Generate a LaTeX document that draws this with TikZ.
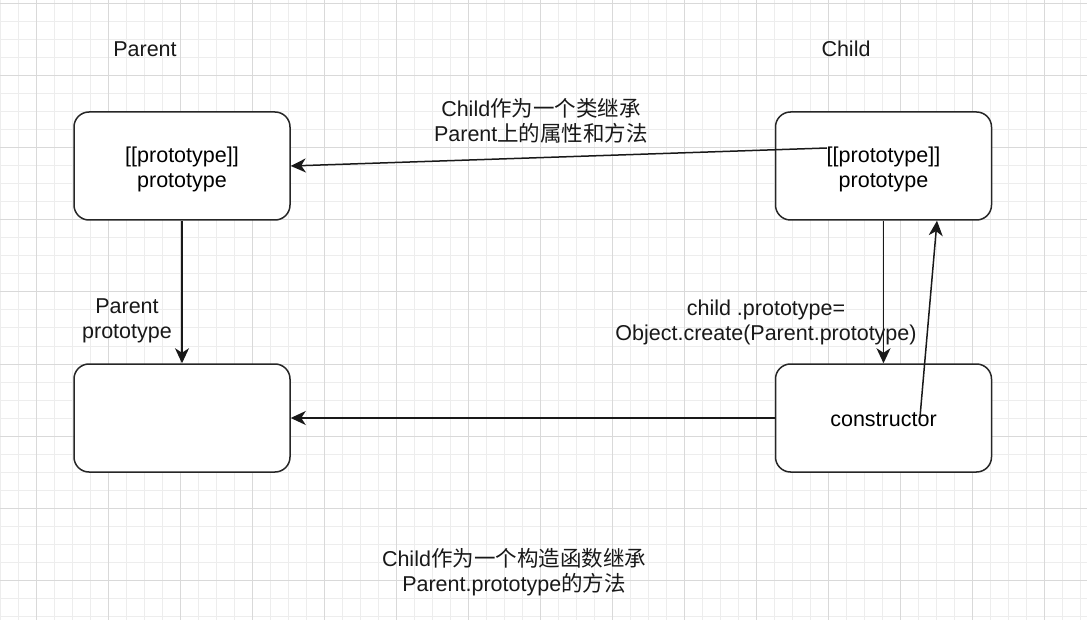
\documentclass[tikz,border=0pt]{standalone}
\usepackage{fontspec}
\setmainfont{Liberation Sans}
\newfontfamily\cjk[Scale=1.0]{Noto Sans CJK SC}
\usetikzlibrary{arrows.meta}
\newcommand{\mytwo}[2]{\raisebox{-4pt}[\height][\depth]{\begin{tabular}{@{}c@{}}#1\\#2\end{tabular}}}
\begin{document}
\begin{tikzpicture}[x=1pt,y=-1pt,
  box/.style={draw=black!85,line width=1.5pt,rounded corners=15pt,minimum width=216pt,minimum height=108pt,align=center,inner sep=0pt,fill=white},
  txt/.style={align=center,inner sep=0pt,text=black!90},
  arr/.style={line width=1.5pt,draw=black!90,-{Stealth[length=15pt,width=14pt,inset=4.5pt]}},
  minorgrid/.style={draw=black!7,line width=1pt},
  majorgrid/.style={draw=black!15,line width=1pt},
  font=\fontsize{21.5}{25}\selectfont]
\fill[white] (0,0) rectangle (1087,620);
\useasboundingbox (0,0) rectangle (1087,620);
% grid
\foreach \x in {0,18,...,1086} \draw[minorgrid] (\x,0) -- (\x,620);
\foreach \y in {4,22,...,620} \draw[minorgrid] (0,\y) -- (1087,\y);
\foreach \x in {36,108,...,1086} \draw[majorgrid] (\x,0) -- (\x,620);
\foreach \y in {4,76,...,620} \draw[majorgrid] (0,\y) -- (1087,\y);
% boxes
\node[box] (ptop) at (182,166) {\mytwo{[[prototype]]}{prototype}};
\node[box] (pbot) at (182,418) {};
\node[box] (ctop) at (883.5,166) {\mytwo{[[prototype]]}{prototype}};
\node[box] (cbot) at (883.5,418) {\raisebox{-2pt}[\height][\depth]{constructor}};
% titles
\node[txt] (tparent) at (145,49) {Parent};
\node[txt] (tchild) at (846,49) {Child};
% connectors
\coordinate (c1) at (827,148);
\coordinate (c2) at (920,417);
\draw[arr] (c1) -- (ptop.east);
\draw[arr] (ptop.south) -- (pbot.north);
\draw[arr] (ctop.south) -- (cbot.north);
\draw[arr] (c2) -- ([xshift=53.5pt]ctop.south);
\draw[arr] (cbot.west) -- (pbot.east);
% labels
\node[txt] (l1) at (541,121) {Child{\cjk 作为一个类继承}\\Parent{\cjk 上的属性和方法}};
\node[txt] (l2) at (127,321) {Parent\\prototype};
\node[txt] (l3) at (766,322) {child .prototype=\\Object.create(Parent.prototype)};
\node[txt] (l4) at (514,572.5) {Child{\cjk 作为一个构造函数继承}\\Parent.prototype{\cjk 的方法}};
\end{tikzpicture}
\end{document}
